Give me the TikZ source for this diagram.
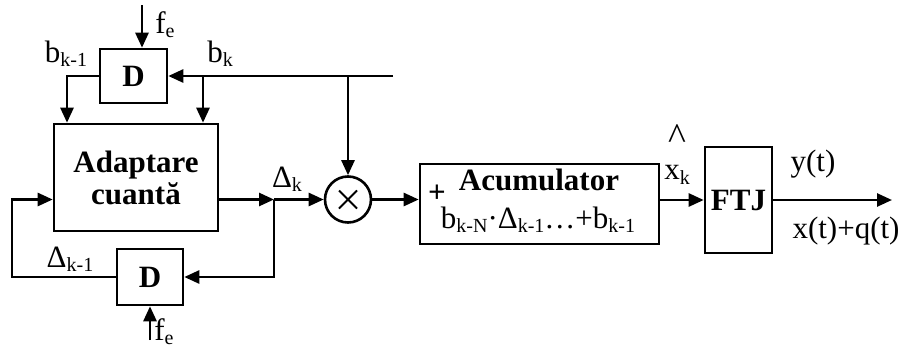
\documentclass[tikz,border=0pt]{standalone}
\usepackage{fontspec}
\setmainfont{Liberation Serif}
\usetikzlibrary{arrows.meta,calc}
\newcommand\sbs[1]{\raisebox{-0.14em}{\fontsize{20}{20}\selectfont #1}}
\begin{document}
\begin{tikzpicture}[x=1pt,y=-1pt, line width=2.6pt, font=\fontsize{31}{33}\selectfont,
  blk/.style={draw, line width=2.6pt, inner sep=0pt, font=\fontsize{31}{32}\selectfont\bfseries, align=center},
  arr/.style={-{Triangle[length=15pt,width=13pt]}},
  lbl/.style={inner sep=0pt}]
\useasboundingbox (0,0) rectangle (906,351);
% blocks
\node[blk, minimum width=67pt, minimum height=54pt] (D1) at (133.5,76) {D};
\node[blk, minimum width=164pt, minimum height=107pt, text depth=-6pt] (Ad) at (136,177.5) {Adaptare\\cuantă};
\node[blk, minimum width=66pt, minimum height=56pt] (D2) at (150,277) {D};
\node[draw, circle, minimum size=46pt, inner sep=0pt] (M) at (348,199.5) {};
\draw[line width=1.8pt] ([shift={(-9,-9)}]M.center) -- ([shift={(9,9)}]M.center)
      ([shift={(-9,9)}]M.center) -- ([shift={(9,-9)}]M.center);
\node[blk, minimum width=239pt, minimum height=80pt] (Acc) at (539.5,204) {};
\node[blk, minimum width=67pt, minimum height=106pt] (F) at (738.5,200) {FTJ};
% coordinates
\coordinate (fe1) at (142,5);
\coordinate (fe2) at (150,340);
\coordinate (in) at (393,76);
\coordinate (bk) at (203,76);
\coordinate (j) at (274,199.5);
\coordinate (out) at (892,200);
\coordinate (lt) at (67,76);
\coordinate (lf) at (12,277);
% connectors
\draw[arr] (fe1) -- (fe1 |- D1.north);
\draw[arr] (in) -- (D1.east);
\draw[arr] (bk) -- (bk |- Ad.north);
\draw[arr] (M |- in) -- (M.north);
\draw[arr] (D1.west) -| (lt |- Ad.north);
\draw[arr] (Ad.east |- j) -- (j);
\draw[arr] (j) -- (M.west);
\draw[arr] (j) |- (D2.east);
\draw[arr] (D2.west) -- (lf) |- (Ad.west |- j);
\draw[arr] (fe2) -- (D2.south);
\draw[arr] (M.east) -- (Acc.west |- M.east);
\draw[arr] (Acc.east |- F.west) -- (F.west);
\draw[arr] (F.east) -- (out);
% labels
\node[lbl] (lfe1) at (165,25) {f\sbs{e}};
\node[lbl] (lbk1) at (66,54) {b\sbs{k-1}};
\node[lbl] (lbk) at (220,54) {b\sbs{k}};
\node[lbl] (ldk) at (287,179) {Δ\sbs{k}};
\node[lbl] (ldk1) at (70,259) {Δ\sbs{k-1}};
\node[lbl] (lfe2) at (164,332) {f\sbs{e}};
\node[lbl, font=\fontsize{31}{33}\selectfont\bfseries] (lacc) at (539,180) {Acumulator};
\node[lbl, font=\fontsize{31}{33}\selectfont\bfseries] (lplus) at (437,194) {+};
\node[lbl] (lform) at (538,220) {b\sbs{k-N}·Δ\sbs{k-1}…+b\sbs{k-1}};
\node[lbl, font=\fontsize{38}{38}\selectfont] (lhat) at (677,137) {\textasciicircum};
\node[lbl] (lxk) at (677,175) {x\sbs{k}};
\node[lbl] (ly) at (813,164) {y(t)};
\node[lbl] (lx) at (846,231) {x(t)+q(t)};
\end{tikzpicture}
\end{document}
